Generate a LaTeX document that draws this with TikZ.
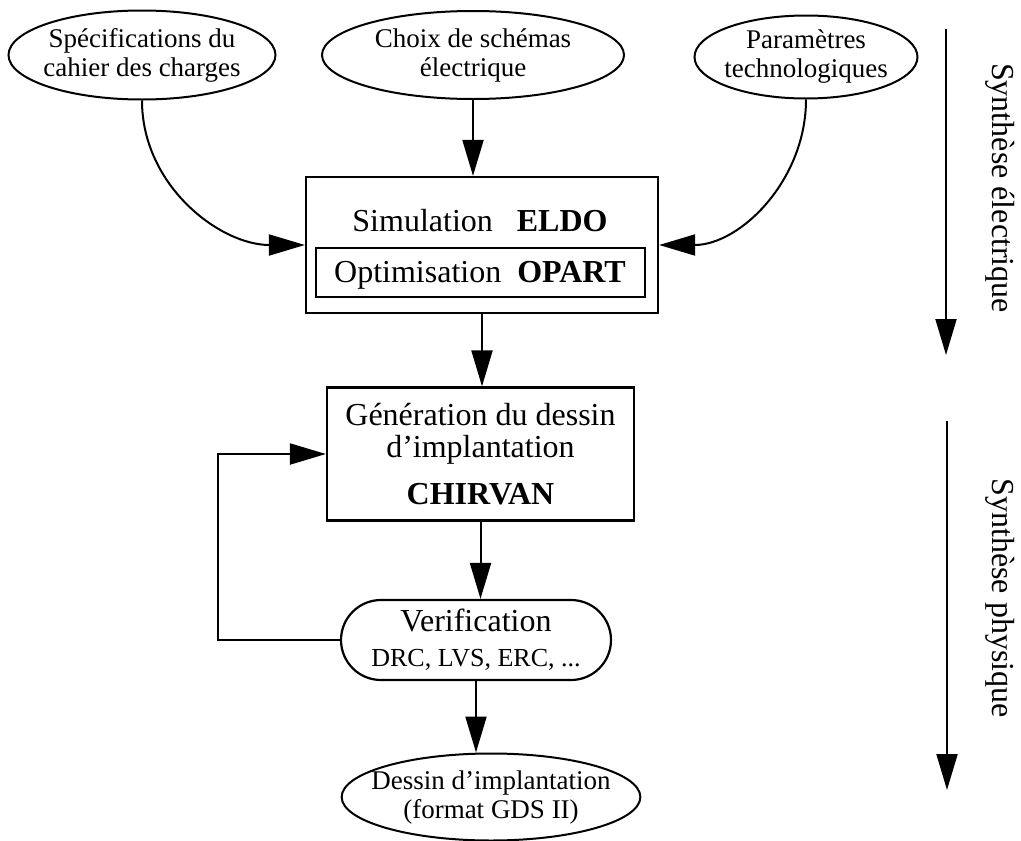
\documentclass[tikz,border=0pt]{standalone}
\usepackage{fontspec}
\setmainfont{Liberation Serif}
\usetikzlibrary{arrows.meta,shapes.geometric}

\begin{document}
\begin{tikzpicture}[x=1pt, y=-1pt,
  oval/.style={draw, ellipse, line width=2pt, inner xsep=-14pt, inner ysep=0pt,
    align=center, font=\fontsize{27}{29}\selectfont},
  box/.style={draw, rectangle, line width=2.2pt, inner sep=0pt, align=center,
    font=\fontsize{32}{32}\selectfont},
  arr/.style={line width=2pt, -{Triangle[length=36pt,width=21pt]}},
  side/.style={rotate=-90, inner sep=0pt, font=\fontsize{32}{32}\selectfont}]
  \useasboundingbox (0,0) rectangle (1021,841);

  \node[oval, minimum width=267pt, minimum height=89pt] (spec) at (142,55) {Spécifications du\\cahier des charges};
  \node[oval, minimum width=302pt, minimum height=88pt] (choix) at (473,55) {Choix de schémas\\électrique};
  \node[oval, minimum width=223pt, minimum height=83pt] (param) at (806,57) {Paramètres\\technologiques};

  % the optimiser box sits inside the simulator box
  \node[box, minimum width=352pt, minimum height=136pt] (sim) at (482,245) {};
  \node[inner sep=0pt, font=\fontsize{32}{32}\selectfont] (simtxt) at (480,221) {Simulation\hspace{.75em}\textbf{ELDO}};
  \node[box, line width=2pt, minimum width=329pt, minimum height=49pt, text depth=0pt] (opt) at (480,272) {Optimisation\enskip\textbf{OPART}};

  \node[box, minimum width=307pt, minimum height=133pt] (gen) at (480.5,454) {Génération du dessin\\d'implantation\\[15pt]\textbf{CHIRVAN}};
  \node[box, rounded corners=40pt, minimum width=270pt, minimum height=80pt, font=\fontsize{32}{35}\selectfont] (verif) at (476,640)
    {Verification\\{\fontsize{26}{35}\selectfont DRC, LVS, ERC, ...}};
  \node[oval, minimum width=290pt, minimum height=87pt] (out) at (491,797) {Dessin d'implantation\\(format GDS II)};

  \draw[arr] (choix.south) -- (choix.south |- sim.north);
  \draw[arr] (spec.south) to[out=-90, in=180] (sim.west);
  \draw[arr] (param.south) to[out=-90, in=0] (sim.east);
  \draw[arr] (sim.south) -- (sim.south |- gen.north);
  \draw[arr] (gen.south) -- (gen.south |- verif.north);
  \draw[arr] (verif.west) -- ++(-122,0) |- (gen.west);
  \draw[arr] (verif.south) -- (verif.south |- out.north);

  % the two synthesis phases along the right edge
  \coordinate (el0) at (946,29);
  \coordinate (el1) at (946,355);
  \coordinate (ph0) at (947,421);
  \coordinate (ph1) at (947,790);
  \draw[arr] (el0) -- (el1);
  \draw[arr] (ph0) -- (ph1);
  \node[side] (elec) at (1000,188) {Synthèse électrique};
  \node[side] (phys) at (1000,598) {Synthèse physique};
\end{tikzpicture}
\end{document}
